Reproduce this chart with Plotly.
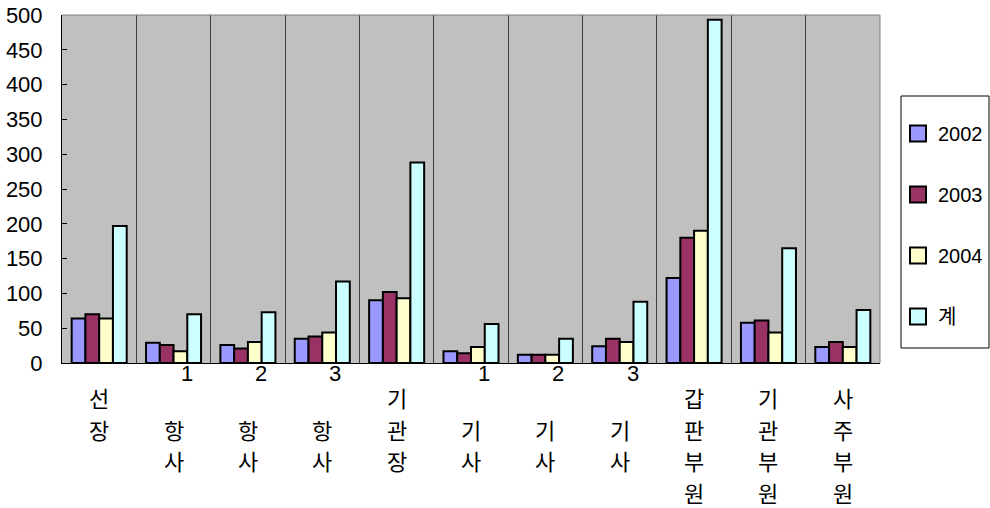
import plotly.graph_objects as go

# Crew headcount by position, 2002-2004 and total
positions = [
    ["", "선", "장"],
    ["1", "", "항", "사"],
    ["2", "", "항", "사"],
    ["3", "", "항", "사"],
    ["", "기", "관", "장"],
    ["1", "", "기", "사"],
    ["2", "", "기", "사"],
    ["3", "", "기", "사"],
    ["", "갑", "판", "부", "원"],
    ["", "기", "관", "부", "원"],
    ["", "사", "주", "부", "원"],
]
series_names = ["2002", "2003", "2004", "계"]
v2002 = [64, 29, 26, 35, 90, 17, 12, 24, 122, 58, 23]
v2003 = [70, 26, 21, 38, 102, 14, 12, 35, 180, 61, 30]
v2004 = [64, 17, 30, 44, 93, 23, 12, 30, 190, 44, 23]
total = [197, 70, 73, 117, 288, 56, 35, 88, 493, 165, 76]
y_ticks = list(range(0, 501, 50))

colors = ["#9999FF", "#993366", "#FFFFCC", "#CCFFFF"]
LAT = "Liberation Sans, Arial, Noto Sans CJK KR"
KR = "Noto Sans CJK KR, Liberation Sans"

W, H = 990, 508
L, R, T, B = 62, 110, 15, 145
pw, ph = W - L - R, H - T - B

x = list(range(len(positions)))
fig = go.Figure()
for name, vals, col in zip(series_names, [v2002, v2003, v2004, total], colors):
    fig.add_trace(go.Bar(
        x=x, y=vals, name=name, legendgroup=name, showlegend=False,
        marker=dict(color=col, line=dict(color="black", width=2)),
    ))
    # legend key: larger square swatch than the default bar icon
    fig.add_trace(go.Scatter(
        x=[None], y=[None], mode="markers", name=name, legendgroup=name,
        marker=dict(symbol="square", size=16, color=col,
                    line=dict(color="black", width=2)),
    ))

# Stacked (one character per line) category labels below the axis
annotations = []
for i, lines in enumerate(positions):
    for k, ch in enumerate(lines):
        if not ch:
            continue
        if k == 0:
            center, xs = 373, 13
        else:
            center, xs = 397 + (k - 1) * 31.5, 0
        annotations.append(dict(
            x=i, xref="x", y=0, yref="paper", yanchor="middle", xanchor="center",
            yshift=-(center - (H - B)), xshift=xs, text=ch, showarrow=False,
            font=dict(family=KR if k else LAT, size=22, color="black"),
        ))

def px_x(p):
    return (p - L) / pw

def px_y(p):
    return (H - B - p) / ph

fig.update_layout(
    width=W, height=H,
    margin=dict(l=L, r=R, t=T, b=B, autoexpand=False),
    paper_bgcolor="white", plot_bgcolor="#C0C0C0",
    barmode="group", bargap=0.26, bargroupgap=0,
    showlegend=True,
    legend=dict(
        x=px_x(898), xanchor="left", y=px_y(114), yanchor="top",
        bgcolor="rgba(0,0,0,0)", borderwidth=0,
        font=dict(family=LAT, size=20, color="black"),
        tracegroupgap=32, itemsizing="trace", itemwidth=30,
    ),
    xaxis=dict(
        range=[-0.5, len(positions) - 0.5],
        tickvals=[i + 0.5 for i in range(len(positions) - 1)],
        showticklabels=False, showgrid=True, gridcolor="#404040", gridwidth=1,
        zeroline=False, showline=True, linecolor="black", linewidth=1,
        ticks="", fixedrange=True, automargin=False,
    ),
    yaxis=dict(
        range=[0, 500], tickvals=y_ticks, showgrid=False, zeroline=False,
        showline=True, linecolor="black", linewidth=1,
        ticks="inside", ticklen=5, tickcolor="black",
        tickfont=dict(family=LAT, size=22, color="black"),
        ticklabelstandoff=14, automargin=False,
    ),
    annotations=annotations,
    shapes=[
        dict(type="line", xref="paper", yref="paper", x0=0, x1=1, y0=1, y1=1,
             line=dict(color="#808080", width=1)),
        dict(type="line", xref="paper", yref="paper", x0=1, x1=1, y0=0, y1=1,
             line=dict(color="#808080", width=1)),
        # legend frame
        dict(type="rect", xref="paper", yref="paper",
             x0=px_x(901), x1=px_x(989), y0=px_y(348), y1=px_y(96),
             fillcolor="white", line=dict(color="black", width=1)),
    ],
)

fig.write_html("out.html")
